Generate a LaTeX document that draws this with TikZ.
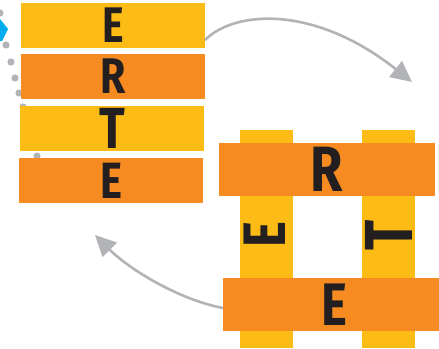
\documentclass[tikz,border=0pt]{standalone}
\usepackage{fontspec}
\usepackage{graphicx}
\newfontfamily\ertfont{Fira Sans}
\usetikzlibrary{arrows.meta}
\definecolor{ertyellow}{HTML}{FCBB15}
\definecolor{ertorange}{HTML}{F68C21}
\definecolor{ertgray}{HTML}{B2B3B7}
\definecolor{ertblue}{HTML}{00AEEF}
\definecolor{ertink}{HTML}{231F20}
\newcommand\ertglyph[2]{\fontsize{#1}{#1}\selectfont\bfseries\scalebox{0.82}[1]{#2}}
\tikzset{
  bar/.style={rectangle, inner sep=0, outer sep=0, text=ertink, font=\ertfont},
  ybar/.style={bar, fill=ertyellow},
  obar/.style={bar, fill=ertorange},
  letter/.style={inner sep=0, outer sep=0, text=ertink, font=\ertfont},
  dot/.style={fill=ertgray},
  curvearrow/.style={draw=ertgray, line width=2.6pt, -{Triangle[length=21pt,width=20pt]}},
}
\begin{document}
\begin{tikzpicture}[x=1pt,y=-1pt]
\useasboundingbox (0,0) rectangle (439,348);
\clip (0,0) rectangle (439,348);
% dots and blue tip
\foreach \p in {(0,13),(6,45),(11,62),(15,78),(19,93),(23,107),(27,123),(31,139),(37,156)}
  \fill[dot] \p circle (3.6);
\fill[ertblue] (0,19) -- (8,29) -- (2,41) -- (0,41) -- cycle;
% left stack
\node[ybar, minimum width=184, minimum height=45] (b1) at (113,25.5) {\ertglyph{50}{E}};
\node[obar, minimum width=184, minimum height=45] (b2) at (113,76.5) {\ertglyph{50}{R}};
\node[ybar, minimum width=184, minimum height=45] (b3) at (112,128.5) {\ertglyph{58}{T}};
\node[obar, minimum width=184, minimum height=45] (b4) at (111,180.5) {\ertglyph{51}{E}};
% right weave
\node[ybar, minimum width=53, minimum height=218] (v1) at (266.5,239) {};
\node[ybar, minimum width=53, minimum height=218] (v2) at (388.5,239) {};
\node[obar, minimum width=216, minimum height=53] (h1) at (327,169.5) {\ertglyph{64}{R}};
\node[obar, minimum width=222, minimum height=53] (h2) at (334,304.5) {\ertglyph{60}{E}};
\node[letter, rotate=90] (le) at (265,235) {\ertglyph{60}{E}};
\node[letter, rotate=90] (lt) at (389,235) {\ertglyph{68}{T}};
% arrows
\coordinate (t1) at (412,82);
\coordinate (t2) at (95,235);
\draw[curvearrow] ([yshift=-14.5pt]b1.east) .. controls (235,10) and (315,5) .. (t1);
\draw[curvearrow] ([yshift=-3.5pt]h2.west) .. controls (180,300) and (130,270) .. (t2);
\end{tikzpicture}
\end{document}
